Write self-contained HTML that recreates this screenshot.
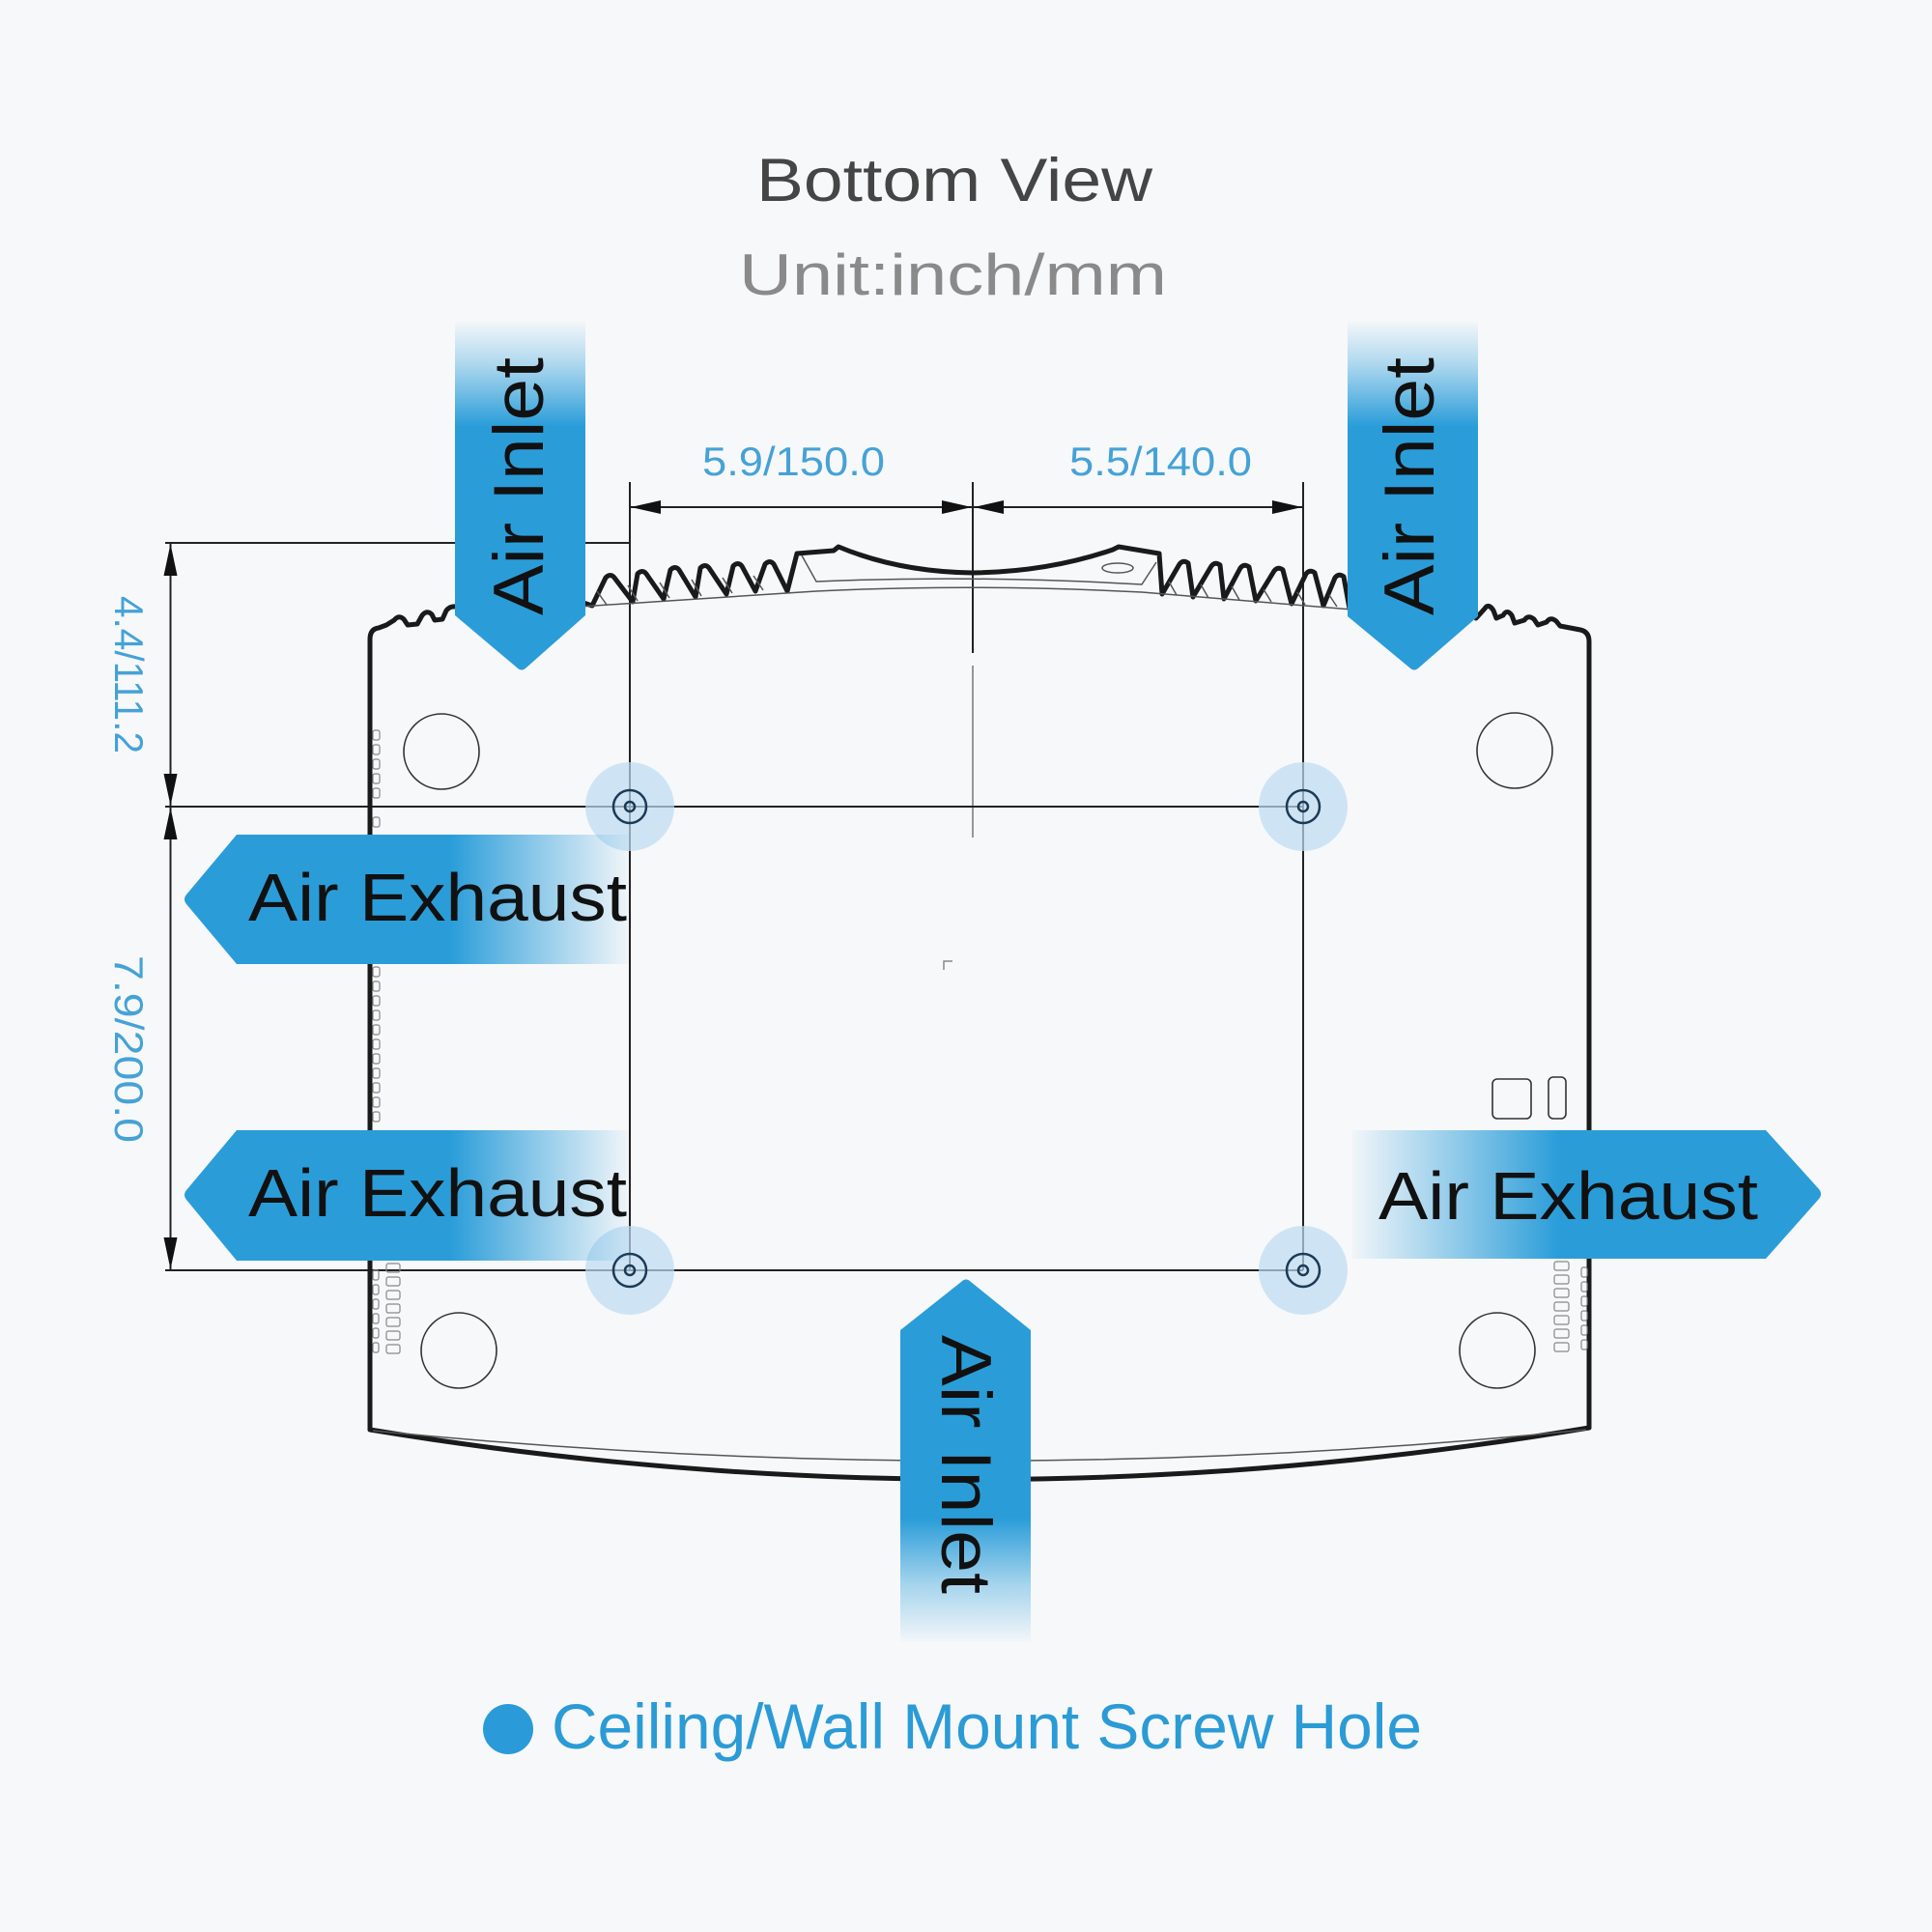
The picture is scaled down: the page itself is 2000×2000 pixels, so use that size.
<!DOCTYPE html>
<html>
<head>
<meta charset="utf-8">
<style>
html,body{margin:0;padding:0;background:#f7f8fa;}
body{width:2000px;height:2000px;overflow:hidden;}
svg{display:block;}
</style>
</head>
<body>
<svg width="2000" height="2000" viewBox="0 0 2000 2000" xmlns="http://www.w3.org/2000/svg">
<defs>
  <linearGradient id="gL" gradientUnits="userSpaceOnUse" x1="189" y1="0" x2="651" y2="0">
    <stop offset="0" stop-color="#2a9dd9" stop-opacity="1"/>
    <stop offset="0.60" stop-color="#2a9dd9" stop-opacity="1"/>
    <stop offset="0.80" stop-color="#2a9dd9" stop-opacity="0.5"/>
    <stop offset="1" stop-color="#2a9dd9" stop-opacity="0.03"/>
  </linearGradient>
  <linearGradient id="gR" gradientUnits="userSpaceOnUse" x1="1400" y1="0" x2="1887" y2="0">
    <stop offset="0" stop-color="#2a9dd9" stop-opacity="0.03"/>
    <stop offset="0.22" stop-color="#2a9dd9" stop-opacity="0.5"/>
    <stop offset="0.44" stop-color="#2a9dd9" stop-opacity="1"/>
    <stop offset="1" stop-color="#2a9dd9" stop-opacity="1"/>
  </linearGradient>
  <linearGradient id="gT" gradientUnits="userSpaceOnUse" x1="0" y1="333" x2="0" y2="695">
    <stop offset="0" stop-color="#2a9dd9" stop-opacity="0.02"/>
    <stop offset="0.12" stop-color="#2a9dd9" stop-opacity="0.35"/>
    <stop offset="0.30" stop-color="#2a9dd9" stop-opacity="1"/>
    <stop offset="1" stop-color="#2a9dd9" stop-opacity="1"/>
  </linearGradient>
  <linearGradient id="gB" gradientUnits="userSpaceOnUse" x1="0" y1="1323" x2="0" y2="1700">
    <stop offset="0" stop-color="#2a9dd9" stop-opacity="1"/>
    <stop offset="0.66" stop-color="#2a9dd9" stop-opacity="1"/>
    <stop offset="0.84" stop-color="#2a9dd9" stop-opacity="0.4"/>
    <stop offset="1" stop-color="#2a9dd9" stop-opacity="0.02"/>
  </linearGradient>
</defs>

<rect x="0" y="0" width="2000" height="2000" fill="#f7f8fa"/>

<!-- Titles -->
<text x="783" y="208" font-family="Liberation Sans, sans-serif" font-size="63" fill="#454545" textLength="410" lengthAdjust="spacingAndGlyphs">Bottom View</text>
<text x="765" y="305" font-family="Liberation Sans, sans-serif" font-size="60" fill="#8a8a8a" textLength="443" lengthAdjust="spacingAndGlyphs">Unit:inch/mm</text>

<!-- Dimension labels -->
<g font-family="Liberation Sans, sans-serif" font-size="42" fill="#45a2d6">
  <text x="727" y="492" textLength="189" lengthAdjust="spacingAndGlyphs">5.9/150.0</text>
  <text x="1107" y="492" textLength="189" lengthAdjust="spacingAndGlyphs">5.5/140.0</text>
  <text transform="translate(119,617) rotate(90)" x="0" y="0" textLength="163" lengthAdjust="spacingAndGlyphs">4.4/111.2</text>
  <text transform="translate(119,989) rotate(90)" x="0" y="0" textLength="194" lengthAdjust="spacingAndGlyphs">7.9/200.0</text>
</g>

<!-- Dimension / extension lines -->
<g stroke="#222" stroke-width="2" fill="none">
  <line x1="652" y1="499" x2="652" y2="1315"/>
  <line x1="1349" y1="499" x2="1349" y2="1315"/>
  <line x1="1007" y1="499" x2="1007" y2="676"/>
  <line x1="1007" y1="689" x2="1007" y2="867" stroke="#777" stroke-width="1.5"/>
  <line x1="652" y1="525" x2="1349" y2="525"/>
  <line x1="171" y1="562" x2="652" y2="562"/>
  <line x1="171" y1="835" x2="1349" y2="835"/>
  <line x1="171" y1="1315" x2="1349" y2="1315"/>
  <line x1="176.5" y1="562" x2="176.5" y2="1315"/>
</g>
<g fill="#111">
  <polygon points="653,525 684,518 684,532"/>
  <polygon points="1006,525 975,518 975,532"/>
  <polygon points="1008,525 1039,518 1039,532"/>
  <polygon points="1348,525 1317,518 1317,532"/>
  <polygon points="176.5,563 169.5,596 183.5,596"/>
  <polygon points="176.5,834 169.5,801 183.5,801"/>
  <polygon points="176.5,836 169.5,869 183.5,869"/>
  <polygon points="176.5,1314 169.5,1281 183.5,1281"/>
</g>

<!-- Body outline -->
<g fill="none" stroke="#1a1a1a" stroke-width="5" stroke-linejoin="round" stroke-linecap="round">
  <path d="M383 1480 L383 662 Q383 651 392 650 L400 647 L408 642 Q413 636 418 641 L422 647 L432 646 L437 637 Q442 631 447 636 L450 642 L458 641 L462 632 Q466 627 472 628"/>
  <path d="M604 624 L613 627 L627 598 Q632 593 636 598 L655 623 L660 594 Q665 589 669 594 L687 620 L694 590 Q699 585 703 590 L720 618 L725 588 Q730 583 734 588 L752 615 L759 586 Q764 581 768 586 L782 612 L792 584 Q797 579 801 584 L815 612 L825 573 L863 570 L868 566 Q930 592 1007 593 Q1085 592 1152 569 L1158 566 L1200 573 L1203 615 L1221 584 Q1225 579 1230 583 L1235 618 L1254 586 Q1258 581 1263 585 L1267 620 L1284 588 Q1288 583 1293 587 L1300 622 L1319 591 Q1323 586 1328 590 L1337 625 L1352 594 Q1356 589 1361 593 L1370 627 L1382 598 Q1386 593 1391 597 L1397 630"/>
  <path d="M1528 640 L1537 630 Q1541 624 1546 632 L1549 640 L1556 637 Q1560 630 1565 637 L1568 645 L1578 642 Q1582 636 1588 641 L1592 647 L1601 644 Q1605 638 1611 643 L1615 648 L1636 652 Q1645 654 1645 664 L1645 1478"/>
  <path d="M383 1480 Q1014 1584 1645 1478"/>
</g>
<g fill="none" stroke="#555" stroke-width="1.5">
  <path d="M386 1481 Q1014 1544 1642 1480"/>
  <path d="M600 628 L845 612 Q1007 604 1182 613 L1400 631"/>
  <path d="M830 575 L845 602 Q1007 595 1182 605 L1197 582"/>
  <ellipse cx="1157" cy="588" rx="16" ry="5"/>
  <path d="M618 612 L628 626 M650 606 L660 622 M683 603 L693 619 M716 600 L726 617 M748 598 L758 614 M780 596 L790 611 M1210 602 L1218 616 M1243 605 L1251 619 M1275 607 L1283 621 M1308 610 L1316 623 M1343 613 L1351 626 M1376 616 L1384 628"/>
</g>

<!-- feet circles and small details -->
<g fill="none" stroke="#333" stroke-width="1.6">
  <circle cx="457" cy="778" r="39"/>
  <circle cx="1568" cy="777" r="39"/>
  <circle cx="475" cy="1398" r="39"/>
  <circle cx="1550" cy="1398" r="39"/>
  <rect x="1545" y="1117" width="40" height="41" rx="5"/>
  <rect x="1603" y="1115" width="18" height="43" rx="5"/>
  <path d="M977 1004 L977 995 L986 995" stroke="#888" stroke-width="1.5"/>
</g>

<!-- vent slots -->
<g fill="none" stroke="#888" stroke-width="1.2">
  <rect x="386" y="756" width="7" height="10" rx="2"/>
  <rect x="386" y="771" width="7" height="10" rx="2"/>
  <rect x="386" y="786" width="7" height="10" rx="2"/>
  <rect x="386" y="801" width="7" height="10" rx="2"/>
  <rect x="386" y="816" width="7" height="10" rx="2"/>
  <rect x="386" y="846" width="7" height="10" rx="2"/>
  <rect x="386" y="1001" width="7" height="10" rx="2"/>
  <rect x="386" y="1016" width="7" height="10" rx="2"/>
  <rect x="386" y="1031" width="7" height="10" rx="2"/>
  <rect x="386" y="1046" width="7" height="10" rx="2"/>
  <rect x="386" y="1061" width="7" height="10" rx="2"/>
  <rect x="386" y="1076" width="7" height="10" rx="2"/>
  <rect x="386" y="1091" width="7" height="10" rx="2"/>
  <rect x="386" y="1106" width="7" height="10" rx="2"/>
  <rect x="386" y="1121" width="7" height="10" rx="2"/>
  <rect x="386" y="1136" width="7" height="10" rx="2"/>
  <rect x="386" y="1151" width="7" height="10" rx="2"/>
  <rect x="400" y="1308" width="14" height="9" rx="2"/>
  <rect x="400" y="1322" width="14" height="9" rx="2"/>
  <rect x="400" y="1336" width="14" height="9" rx="2"/>
  <rect x="400" y="1350" width="14" height="9" rx="2"/>
  <rect x="400" y="1364" width="14" height="9" rx="2"/>
  <rect x="400" y="1378" width="14" height="9" rx="2"/>
  <rect x="400" y="1392" width="14" height="9" rx="2"/>
  <rect x="386" y="1315" width="6" height="10" rx="2"/>
  <rect x="386" y="1330" width="6" height="10" rx="2"/>
  <rect x="386" y="1345" width="6" height="10" rx="2"/>
  <rect x="386" y="1360" width="6" height="10" rx="2"/>
  <rect x="386" y="1375" width="6" height="10" rx="2"/>
  <rect x="386" y="1390" width="6" height="10" rx="2"/>
  <rect x="1609" y="1306" width="15" height="9" rx="2"/>
  <rect x="1609" y="1320" width="15" height="9" rx="2"/>
  <rect x="1609" y="1334" width="15" height="9" rx="2"/>
  <rect x="1609" y="1348" width="15" height="9" rx="2"/>
  <rect x="1609" y="1362" width="15" height="9" rx="2"/>
  <rect x="1609" y="1376" width="15" height="9" rx="2"/>
  <rect x="1609" y="1390" width="15" height="9" rx="2"/>
  <rect x="1637" y="1312" width="6" height="10" rx="2"/>
  <rect x="1637" y="1327" width="6" height="10" rx="2"/>
  <rect x="1637" y="1342" width="6" height="10" rx="2"/>
  <rect x="1637" y="1357" width="6" height="10" rx="2"/>
  <rect x="1637" y="1372" width="6" height="10" rx="2"/>
  <rect x="1637" y="1387" width="6" height="10" rx="2"/>
</g>

<!-- screw holes -->
<g fill="#bcdcf1" fill-opacity="0.7">
  <circle cx="652" cy="835" r="46"/>
  <circle cx="1349" cy="835" r="46"/>
  <circle cx="652" cy="1315" r="46"/>
  <circle cx="1349" cy="1315" r="46"/>
</g>
<g fill="none" stroke="#1d3a55" stroke-width="2.5">
  <circle cx="652" cy="835" r="17"/><circle cx="652" cy="835" r="5"/>
  <circle cx="1349" cy="835" r="17"/><circle cx="1349" cy="835" r="5"/>
  <circle cx="652" cy="1315" r="17"/><circle cx="652" cy="1315" r="5"/>
  <circle cx="1349" cy="1315" r="17"/><circle cx="1349" cy="1315" r="5"/>
</g>

<!-- Arrows -->
<path d="M471 333 L606 333 L606 637 L545 691 Q540 696 535 691 L471 637 Z" fill="url(#gT)"/>
<path d="M1395 333 L1530 333 L1530 638 L1469 691 Q1464 696 1459 691 L1395 638 Z" fill="url(#gT)"/>
<path d="M932 1700 L932 1377 L995 1327 Q1000 1322 1005 1327 L1067 1377 L1067 1700 Z" fill="url(#gB)"/>
<path d="M651 864 L245 864 L193 926 Q189 931 193 936 L245 998 L651 998 Z" fill="url(#gL)"/>
<path d="M651 1170 L245 1170 L193 1232 Q189 1237 193 1242 L245 1305 L651 1305 Z" fill="url(#gL)"/>
<path d="M1400 1170 L1828 1170 L1883 1231 Q1887 1236 1883 1241 L1828 1303 L1400 1303 Z" fill="url(#gR)"/>

<!-- Arrow labels -->
<g font-family="Liberation Sans, sans-serif" fill="#111">
  <text x="257" y="953" font-size="70" textLength="392" lengthAdjust="spacingAndGlyphs">Air Exhaust</text>
  <text x="257" y="1259" font-size="70" textLength="392" lengthAdjust="spacingAndGlyphs">Air Exhaust</text>
  <text x="1427" y="1262" font-size="70" textLength="393" lengthAdjust="spacingAndGlyphs">Air Exhaust</text>
  <text transform="translate(562,637) rotate(-90)" x="0" y="0" font-size="73" textLength="267" lengthAdjust="spacingAndGlyphs">Air Inlet</text>
  <text transform="translate(1484,637) rotate(-90)" x="0" y="0" font-size="73" textLength="267" lengthAdjust="spacingAndGlyphs">Air Inlet</text>
  <text transform="translate(975,1382) rotate(90)" x="0" y="0" font-size="73" textLength="268" lengthAdjust="spacingAndGlyphs">Air Inlet</text>
</g>

<!-- Legend -->
<circle cx="526" cy="1790" r="26" fill="#2a9bd8"/>
<text x="571" y="1810" font-family="Liberation Sans, sans-serif" font-size="66" fill="#2b9bd6" textLength="901" lengthAdjust="spacingAndGlyphs">Ceiling/Wall Mount Screw Hole</text>
</svg>
</body>
</html>
